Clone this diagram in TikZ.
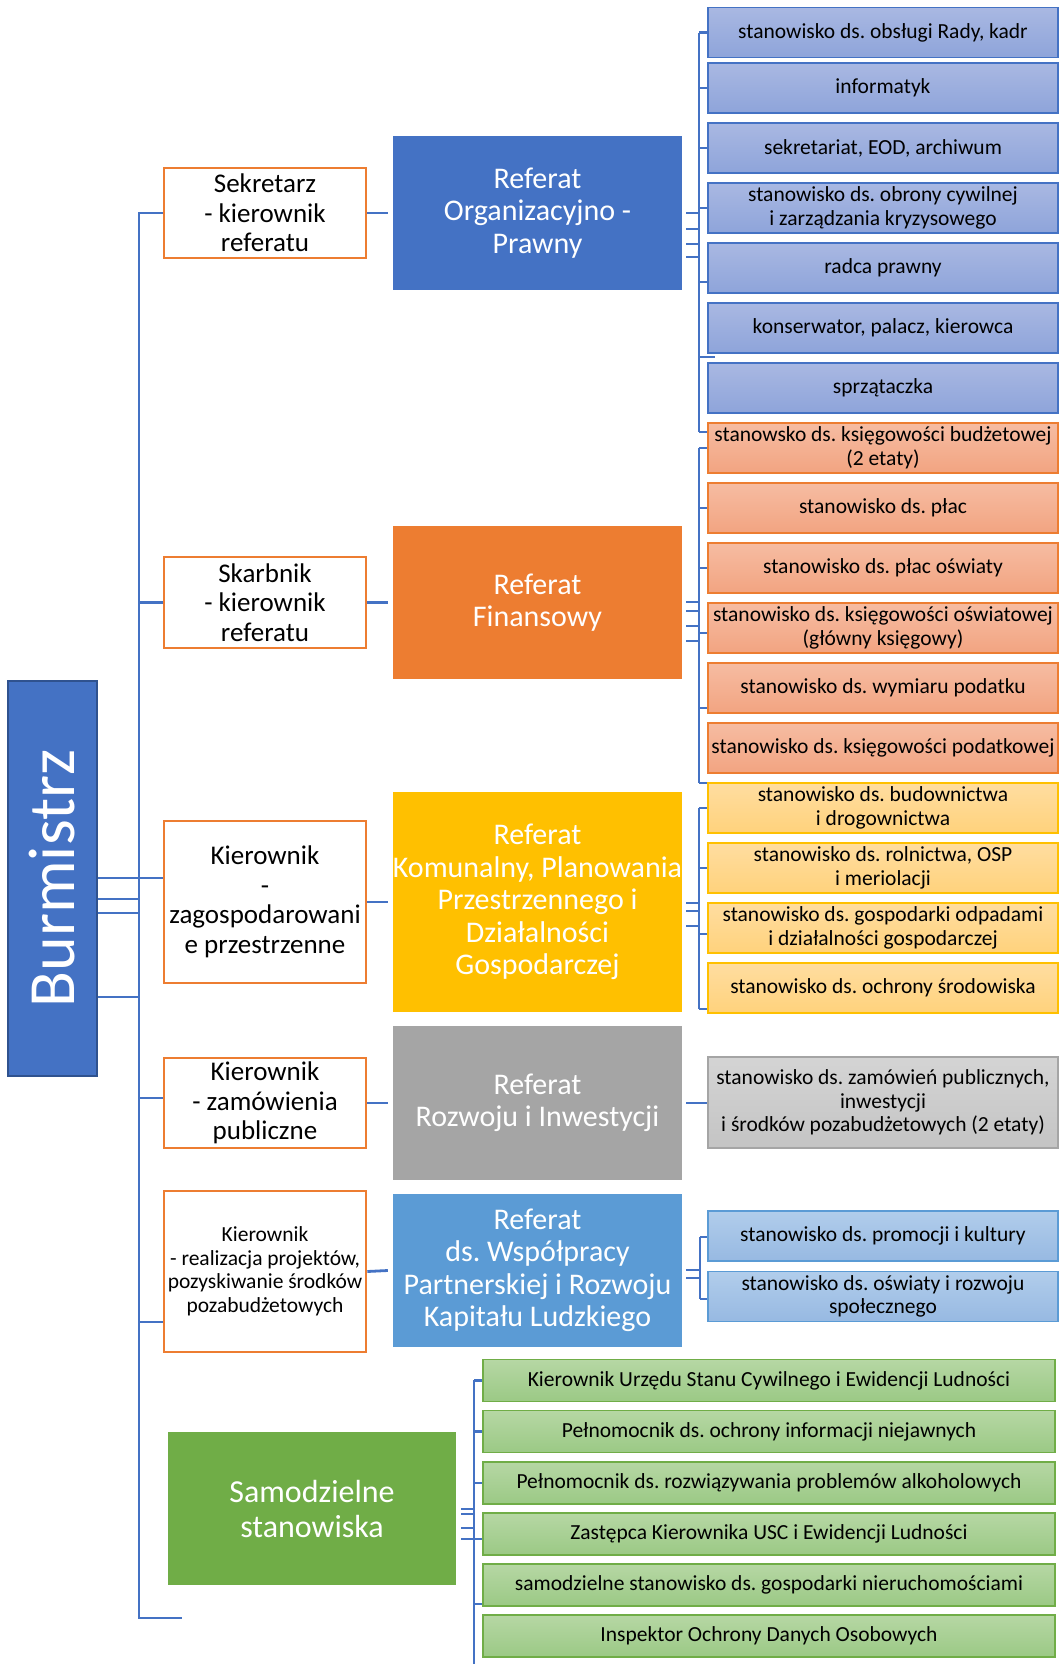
\documentclass[tikz,border=0pt]{standalone}
\usepackage{fontspec}
\setmainfont{Carlito}
\frenchspacing
\definecolor{cBlue}{HTML}{4472C4}
\definecolor{cBlueDk}{HTML}{2F528F}
\definecolor{cOrange}{HTML}{ED7D31}
\definecolor{cYellow}{HTML}{FFC000}
\definecolor{cGrey}{HTML}{A5A5A5}
\definecolor{cLBlue}{HTML}{5B9BD5}
\definecolor{cGreen}{HTML}{70AD47}
\definecolor{gBt}{HTML}{A9B8E2}\definecolor{gBb}{HTML}{8EA4DA}
\definecolor{gOt}{HTML}{F6BCA2}\definecolor{gOb}{HTML}{F2A481}
\definecolor{gYt}{HTML}{FFDDA0}\definecolor{gYb}{HTML}{FFD27C}
\definecolor{gGt}{HTML}{D4D4D4}\definecolor{gGb}{HTML}{C4C4C4}
\definecolor{gLt}{HTML}{B1CDEB}\definecolor{gLb}{HTML}{97B9E2}
\definecolor{gVt}{HTML}{B6D7A4}\definecolor{gVb}{HTML}{9BC985}
\begin{document}
\frenchspacing
\begin{tikzpicture}[x=1pt,y=-1pt,
  conn/.style={draw=cBlue,line width=2.8pt},
  sub/.style={minimum width=350pt,minimum height=50pt,inner sep=1pt,align=center,
    font=\fontsize{21.5}{23.5}\selectfont\frenchspacing,line width=1.3pt},
  subB/.style={sub,draw=cBlue,top color=gBt,bottom color=gBb},
  subO/.style={sub,draw=cOrange,top color=gOt,bottom color=gOb},
  subY/.style={sub,draw=cYellow,top color=gYt,bottom color=gYb},
  subG/.style={sub,draw=cGrey,top color=gGt,bottom color=gGb},
  subL/.style={sub,draw=cLBlue,top color=gLt,bottom color=gLb},
  subV/.style={sub,minimum width=572pt,minimum height=42pt,draw=cGreen,top color=gVt,bottom color=gVb},
  kier/.style={draw=cOrange,line width=2.6pt,fill=white,minimum width=202pt,align=center,
    font=\fontsize{27}{29.5}\selectfont,inner sep=0pt},
  refb/.style={minimum width=289pt,text=white,align=center,font=\fontsize{30}{32.5}\selectfont\frenchspacing,inner sep=0pt}
]
\useasboundingbox (0,0) rectangle (1060,1664);

% Burmistrz
\node[draw=cBlueDk,line width=2pt,fill=cBlue,minimum width=89pt,minimum height=395pt,inner sep=0pt,
  label={[rotate=90,text=white,font=\fontsize{66}{72}\selectfont]center:Burmistrz}] (burm) at (52.5,878.5) {};

% Kierownik boxes
\node[kier,minimum height=90pt] (sek) at (265,213) {Sekretarz\\- kierownik\\referatu};
\node[kier,minimum height=91pt] (skar) at (265,602.5) {Skarbnik\\- kierownik\\referatu};
\node[kier,minimum height=162pt] (kz) at (265,902) {Kierownik\\-\\zagospodarowani\\e przestrzenne};
\node[kier,minimum height=90pt] (kzam) at (265,1103) {Kierownik\\- zamówienia\\publiczne};
\node[kier,minimum height=161pt,font=\fontsize{21.5}{23.5}\selectfont] (kreal) at (265,1271.5) {Kierownik\\- realizacja projektów,\\pozyskiwanie środków\\pozabudżetowych};

% Referat boxes
\node[refb,fill=cBlue,minimum height=154pt] (ref1) at (537.5,213) {Referat\\Organizacyjno -\\Prawny};
\node[refb,fill=cOrange,minimum height=153pt] (ref2) at (537.5,602.5) {Referat\\Finansowy};
\node[refb,fill=cYellow,minimum height=220pt] (ref3) at (537.5,902) {Referat\\Komunalny, Planowania\\Przestrzennego i\\Działalności\\Gospodarczej};
\node[refb,fill=cGrey,minimum height=154pt] (ref4) at (537.5,1103) {Referat\\Rozwoju i Inwestycji};
\node[refb,fill=cLBlue,minimum height=153pt] (ref5) at (537.5,1270.5) {Referat\\ds. Współpracy\\Partnerskiej i Rozwoju\\Kapitału Ludzkiego};
\node[refb,fill=cGreen,minimum width=288pt,minimum height=153pt,font=\fontsize{32}{35}\selectfont] (samo) at (312,1508.5) {Samodzielne\\stanowiska};

% Group 1
\node[subB] (a1) at (883,32.5) {stanowisko ds. obsługi Rady, kadr};
\node[subB] (a2) at (883,88) {informatyk};
\node[subB] (a3) at (883,148) {sekretariat, EOD, archiwum};
\node[subB] (a4) at (883,208) {stanowisko ds. obrony cywilnej\\i zarządzania kryzysowego};
\node[subB] (a5) at (883,268) {radca prawny};
\node[subB] (a6) at (883,328) {konserwator, palacz, kierowca};
\node[subB] (a7) at (883,388) {sprzątaczka};
% Group 2
\node[subO] (b1) at (883,448) {stanowsko ds. księgowości budżetowej\\(2 etaty)};
\node[subO] (b2) at (883,508) {stanowisko ds. płac};
\node[subO] (b3) at (883,568) {stanowisko ds. płac oświaty};
\node[subO] (b4) at (883,628) {stanowisko ds. księgowości oświatowej\\(główny księgowy)};
\node[subO] (b5) at (883,688) {stanowisko ds. wymiaru podatku};
\node[subO] (b6) at (883,748) {stanowisko ds. księgowości podatkowej};
% Group 3
\node[subY] (c1) at (883,808) {stanowisko ds. budownictwa\\i drogownictwa};
\node[subY] (c2) at (883,868) {stanowisko ds. rolnictwa, OSP\\i meriolacji};
\node[subY] (c3) at (883,928) {stanowisko ds. gospodarki odpadami\\i działalności gospodarczej};
\node[subY] (c4) at (883,988) {stanowisko ds. ochrony środowiska};
% Group 4
\node[subG,minimum height=91pt] (d1) at (883,1102.5) {stanowisko ds. zamówień publicznych,\\inwestycji\\i środków pozabudżetowych (2 etaty)};
% Group 5
\node[subL] (e1) at (883,1236) {stanowisko ds. promocji i kultury};
\node[subL] (e2) at (883,1296.5) {stanowisko ds. oświaty i rozwoju\\społecznego};
% Group 6
\node[subV] (f1) at (769,1380.5) {Kierownik Urzędu Stanu Cywilnego i Ewidencji Ludności};
\node[subV] (f2) at (769,1431.5) {Pełnomocnik ds. ochrony informacji niejawnych};
\node[subV] (f3) at (769,1483) {Pełnomocnik ds. rozwiązywania problemów alkoholowych};
\node[subV] (f4) at (769,1534) {Zastępca Kierownika USC i Ewidencji Ludności};
\node[subV] (f5) at (769,1585) {samodzielne stanowisko ds. gospodarki nieruchomościami};
\node[subV] (f6) at (769,1636) {Inspektor Ochrony Danych Osobowych};

% Trunk
\coordinate (tEnd) at (182,1618);
\draw[conn] (sek.west) -- (139,213) -- (139,1618) -- (tEnd);
\draw[conn] (139,602.5) -- (skar.west);
\draw[conn] (139,878) -- (kz.west |- 0,878);
\draw[conn] (139,1098) -- (kzam.west |- 0,1098);
\draw[conn] (139,1322) -- (kreal.west |- 0,1322);
\foreach \y in {878,899,913,997} \draw[conn] (burm.east |- 0,\y) -- (139,\y);

% Kierownik -> Referat
\draw[conn] (sek.east) -- ([xshift=-5pt]ref1.west);
\draw[conn] (skar.east) -- ([xshift=-5pt]ref2.west);
\draw[conn] (kz.east) -- ([xshift=-5pt]ref3.west);
\draw[conn] (kzam.east) -- ([xshift=-5pt]ref4.west);
\draw[conn] (kreal.east) -- ([xshift=-5pt]ref5.west);

% Group 1 bus
\draw[conn] (699,33) -- (699,432);
\draw[conn] (699,32.5) -- (a1.west);
\draw[conn] (699,88) -- (a2.west);
\draw[conn] (699,148) -- (a3.west);
\draw[conn] (699,208) -- (a4.west);
\draw[conn] (699,282) -- (a5.west |- 0,282);
\draw[conn] (699,357) -- (715,357);
\draw[conn] (699,432) -- (b1.west |- 0,432);
\foreach \y in {213,229,244,257} \draw[conn] ([xshift=4pt]ref1.east |- 0,\y) -- (699,\y);

% Group 2 bus
\draw[conn] (699,448) -- (699,783);
\draw[conn] (699,448) -- (b1.west);
\draw[conn] (699,508) -- (b2.west);
\draw[conn] (699,568) -- (b3.west);
\draw[conn] (699,633) -- (b4.west |- 0,633);
\draw[conn] (699,708) -- (b5.west |- 0,708);
\draw[conn] (699,783) -- (c1.west |- 0,783);
\foreach \y in {602,611,626,641} \draw[conn] ([xshift=4pt]ref2.east |- 0,\y) -- (699,\y);

% Group 3 bus
\draw[conn] (699,808) -- (699,1009);
\draw[conn] (699,808) -- (c1.west);
\draw[conn] (699,868) -- (c2.west);
\draw[conn] (699,934) -- (c3.west |- 0,934);
\draw[conn] (699,1009) -- (c4.west |- 0,1009);
\foreach \y in {903,911,926} \draw[conn] ([xshift=4pt]ref3.east |- 0,\y) -- (699,\y);

% Group 4
\draw[conn] ([xshift=4pt]ref4.east |- 0,1103) -- (d1.west |- 0,1103);

% Group 5 bus
\draw[conn] (700,1237) -- (700,1299);
\draw[conn] (700,1237) -- (e1.west |- 0,1237);
\draw[conn] (700,1299) -- (e2.west |- 0,1299);
\foreach \y in {1270,1278} \draw[conn] ([xshift=4pt]ref5.east |- 0,\y) -- (700,\y);

% Group 6 bus
\coordinate (gEnd) at (474,1664);
\draw[conn] (474,1380) -- (gEnd);
\draw[conn] (474,1380.5) -- (f1.west);
\draw[conn] (474,1431.5) -- (f2.west);
\draw[conn] (474,1483) -- (f3.west);
\draw[conn] (474,1539) -- (f4.west |- 0,1539);
\draw[conn] (474,1604) -- (f5.west |- 0,1604);
\foreach \y in {1509,1514,1528,1539} \draw[conn] ([xshift=5pt]samo.east |- 0,\y) -- (474,\y);
\end{tikzpicture}
\end{document}
